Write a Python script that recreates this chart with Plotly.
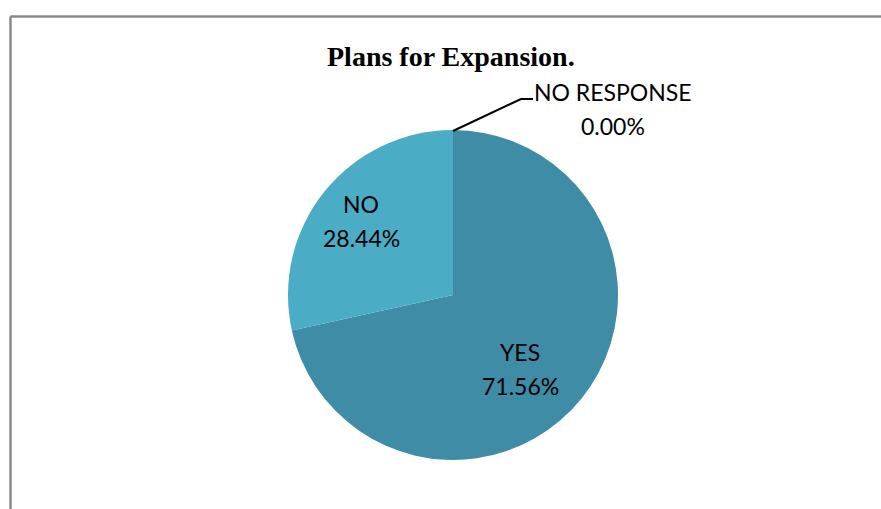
import plotly.graph_objects as go

labels = ["YES", "NO", "NO RESPONSE"]
values = [71.56, 28.44, 0.00]
colors = ["#3E8CA5", "#4BACC6", "#9BBB59"]
title_text = "Plans for Expansion."

W, H = 881, 509
cx, cy, r = 453, 295, 165

fig = go.Figure()
fig.add_trace(go.Pie(
    labels=labels, values=values, sort=False, direction="clockwise", rotation=0,
    marker=dict(colors=colors, line=dict(width=0)),
    textinfo="none", hoverinfo="label+percent", showlegend=False,
    domain=dict(x=[(cx - r) / W, (cx + r) / W], y=[1 - (cy + r) / H, 1 - (cy - r) / H]),
))

def px(x):
    return x / W

def py(y):
    return 1 - y / H

lab_font = dict(family="Lato, Open Sans, sans-serif", size=23, color="#000")
ann = [
    (labels[1], f"{values[1]:.2f}%", 361, 204),
    (labels[0], f"{values[0]:.2f}%", 520, 352),
    (labels[2], f"{values[2]:.2f}%", 613, 92),
]
for name, pct, x, y in ann:
    for t, yy in ((name, y), (pct, y + 34)):
        fig.add_annotation(text=t, x=px(x), y=py(yy), xref="paper", yref="paper",
                           showarrow=False, font=lab_font, align="center",
                           xanchor="center", yanchor="middle")

fig.add_annotation(text=f"<b>{title_text}</b>", x=px(451), y=py(57), xref="paper", yref="paper",
                   showarrow=False, xanchor="center", yanchor="middle",
                   font=dict(family="Liberation Serif, Times New Roman, serif", size=28, color="#000"))

shapes = [
    dict(type="line", xref="paper", yref="paper", x0=px(10.5), y0=py(16.5), x1=px(10.5), y1=0,
         line=dict(color="#8a8a8a", width=2.5)),
    dict(type="line", xref="paper", yref="paper", x0=px(10.5), y0=py(16.5), x1=1, y1=py(16.5),
         line=dict(color="#8a8a8a", width=2.5)),
    dict(type="path", xref="paper", yref="paper",
         path=f"M {px(453)},{py(131)} L {px(521)},{py(99)} L {px(533)},{py(99)}",
         line=dict(color="#000", width=2)),
]

fig.update_layout(
    width=W, height=H, margin=dict(l=0, r=0, t=0, b=0),
    paper_bgcolor="white", plot_bgcolor="white", shapes=shapes,
)
fig.write_html("out.html")
